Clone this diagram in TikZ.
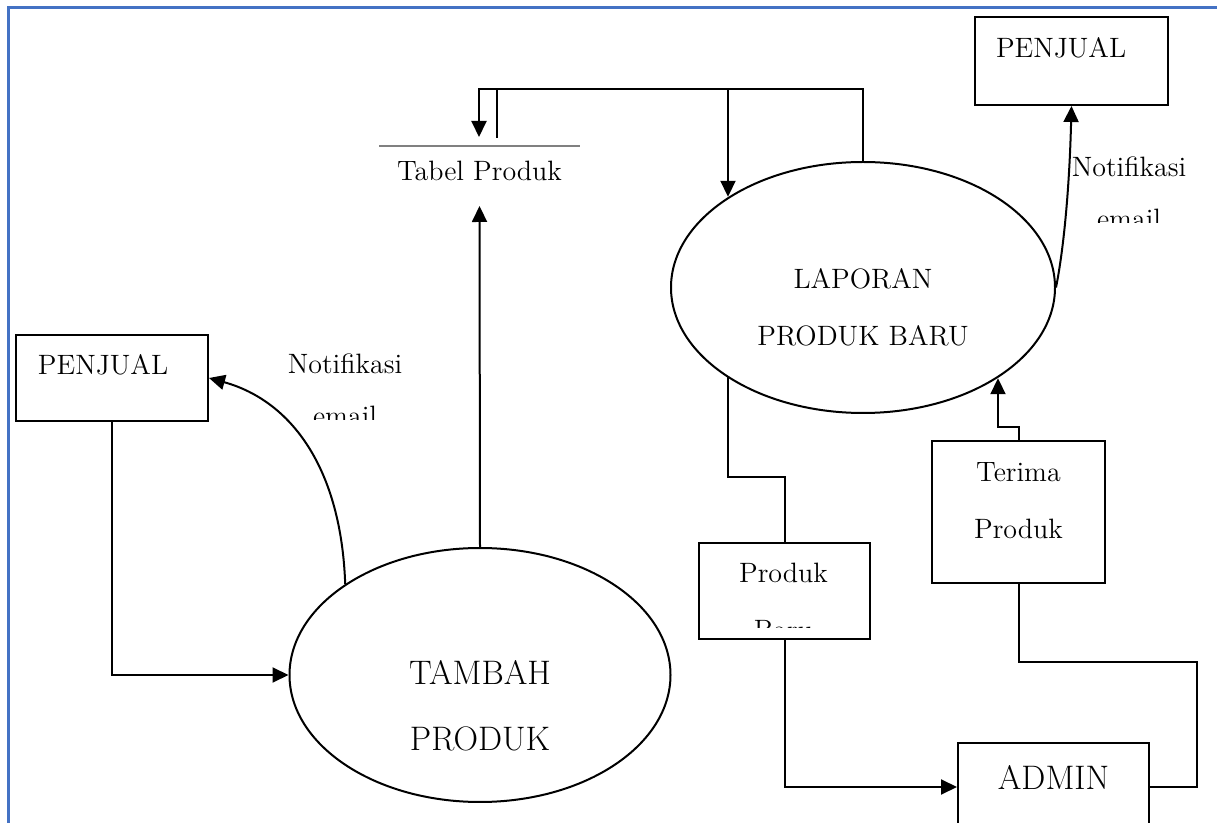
\documentclass[tikz,border=0pt]{standalone}
\usepackage{fontspec}
\usetikzlibrary{shapes.geometric, arrows.meta, positioning}
\definecolor{frameblue}{RGB}{68,114,196}
\newcommand{\twolines}[2]{\begin{tabular}[t]{@{}c@{}}#1\\#2\end{tabular}}

\begin{document}
\begin{tikzpicture}[
    x=0.5pt, y=-0.5pt, line width=1pt,
    txt/.style={font=\fontsize{14}{28.5}\selectfont},
    bigtxt/.style={font=\fontsize{17}{33}\selectfont},
    note/.style={font=\fontsize{14}{26}\selectfont, inner sep=0pt},
    box/.style={draw, rectangle, inner sep=0pt, anchor=north west, txt},
    proc/.style={draw, ellipse, inner sep=0pt},
    flow/.style={-{Triangle[length=8pt, width=7.5pt]}},
    storeline/.style={draw=black!50, line width=0.8pt},
    pageline/.style={draw=frameblue, line width=1.5pt}
  ]
  \useasboundingbox (0,0) rectangle (1217,823);

  % page frame
  \draw[pageline] (8,823) -- (8,8) -- (1217,8);

  % External entities
  \node[box, minimum width=96pt, inner xsep=11pt, text height=20pt, text depth=23pt] (pjl) at (15,334) {\makebox[74pt][l]{PENJUAL}};
  \node[box, minimum width=96.5pt, inner xsep=10.5pt, text height=20.5pt, text depth=23.5pt] (pjr) at (974,16) {\makebox[75.5pt][l]{PENJUAL}};
  \node[box, bigtxt, minimum width=95.5pt, text height=23.5pt, text depth=20.5pt] (admin) at (957,742) {ADMIN};

  % Data store
  \node[txt, inner sep=0pt, minimum width=99.5pt, text height=17pt, text depth=12pt] (tabel) at (479.5,176) {Tabel Produk};
  \draw[storeline] (tabel.north west) -- (tabel.north east);

  % Processes
  \node[proc, bigtxt, minimum width=190.5pt, minimum height=127pt, text height=19pt, text depth=9pt] (tambah) at (480,675) {\twolines{TAMBAH}{PRODUK}};
  \node[proc, txt, minimum width=192pt, minimum height=125.5pt, text height=11.5pt, text depth=10pt] (lap) at (863,287.5) {\twolines{LAPORAN}{PRODUK BARU}};

  % Flow boxes
  \node[box, minimum width=86.5pt, text height=20.5pt, text depth=50.5pt] (terima) at (931,440) {\twolines{Terima}{Produk}};
  \node[box, minimum width=85.5pt, minimum height=48pt] (baru) at (698,542) {};
  \begin{scope}
    \clip (698,542) rectangle (869,628);
    \node[txt, inner sep=0pt, anchor=base] (barutxt) at (783.5,583) {\twolines{Produk}{Baru}};
  \end{scope}

  % Notification labels
  \begin{scope}
    \clip (250,330) rectangle (450,420);
    \node[note, anchor=base] (notifl) at (345,374) {\twolines{Notifikasi}{email}};
  \end{scope}
  \begin{scope}
    \clip (1050,140) rectangle (1210,223);
    \node[note, anchor=base] (notifr) at (1129,177) {\twolines{Notifikasi}{email}};
  \end{scope}

  % Bends
  \coordinate (rail) at (479,89);
  \coordinate (railb) at (728,89);
  \coordinate (tabin) at (479,137);
  \coordinate (tabout) at (497,138);
  \coordinate (bendb) at (728,477);
  \coordinate (bendt) at (998,427);
  \coordinate (bendr) at (1197,662);

  % Connectors
  \draw[flow] (pjl.south) |- (tambah.west);
  \draw[flow] (tambah.146.5) .. controls +(-4,-115) and +(83,23) .. (pjl.east);
  \draw[flow] (tambah.north) -- (tabel.south);
  \draw[flow] (lap.north) |- (rail) -- (tabin);
  \draw[flow] (tabout) |- (railb) -- (railb |- lap.146.6);
  \draw[flow] (lap.east) .. controls +(8,-40) and +(-2,80) .. (pjr.south);
  \draw (bendb |- lap.213.4) -- (bendb) -| (baru.north);
  \draw[flow] (baru.south) |- (admin.west);
  \draw (admin.east) -| (bendr) -| (terima.south);
  \draw[flow] (terima.north) |- (bendt) -- (bendt |- lap.326.6);

\end{tikzpicture}
\end{document}
